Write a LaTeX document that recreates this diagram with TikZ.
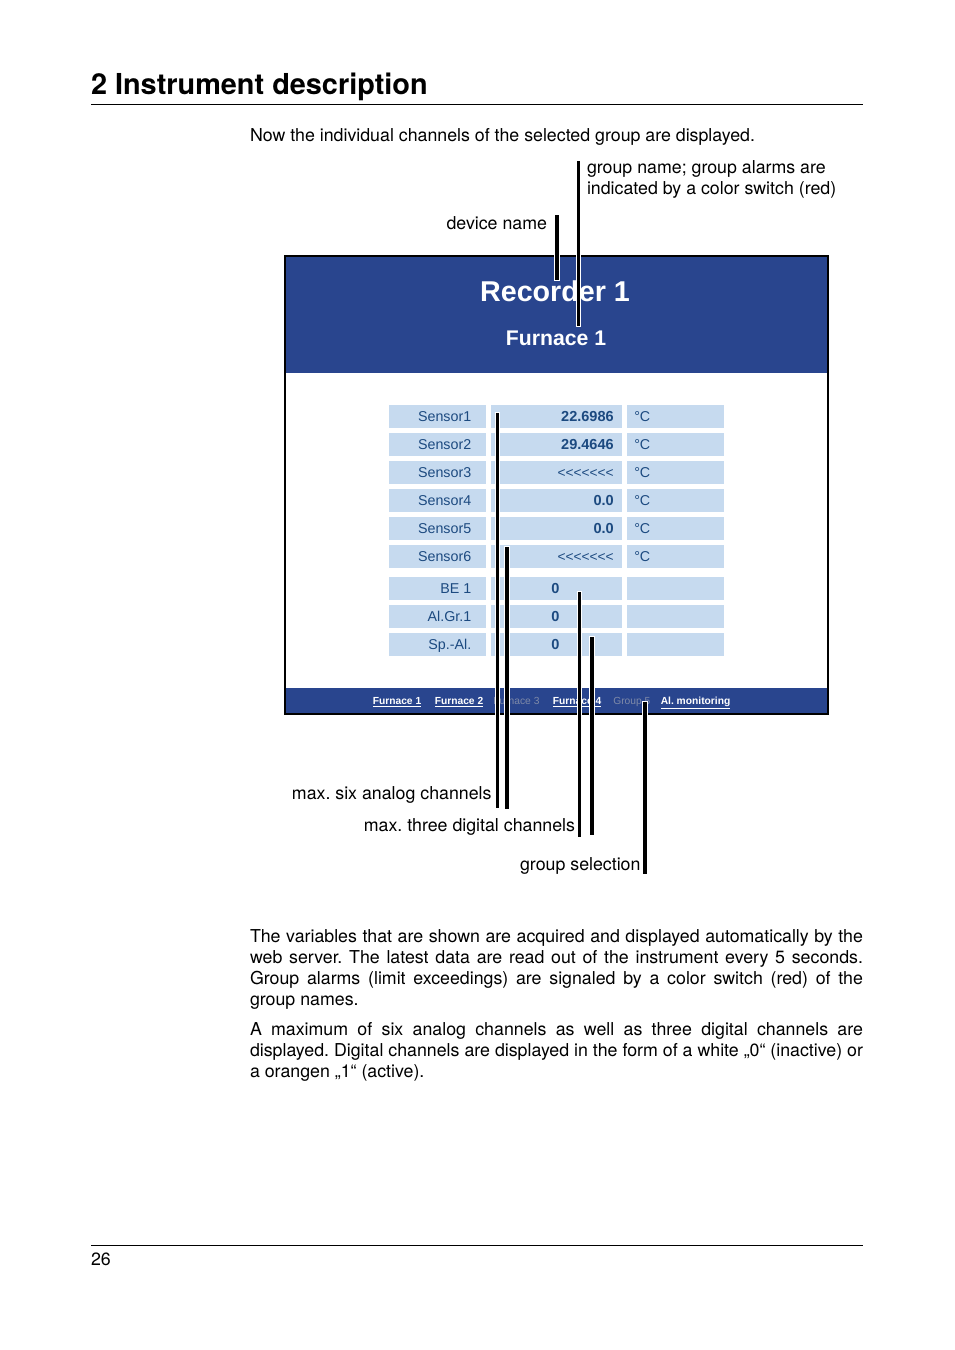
\documentclass[tikz,border=0pt]{standalone}
\usepackage{fontspec}
\setmainfont{TeX Gyre Heros}
\newfontfamily\uifont{Liberation Sans}
\definecolor{hdrblue}{HTML}{29458E}
\definecolor{cellblue}{HTML}{C6DAEF}
\definecolor{celltext}{HTML}{1C4A80}
\definecolor{greylink}{HTML}{7F8AA8}
\frenchspacing
\newcommand{\jline}[1]{\hbox to \hsize{\spaceskip=0.278em plus 1em minus 0.2em\relax #1}}
\tikzset{
  lbl/.style={inner sep=0pt,outer sep=0pt,anchor=base west,font=\fontsize{13.33}{15.75}\selectfont},
  lble/.style={lbl,anchor=base east},
  para/.style={lbl,text width=459.75pt},
  cell/.style={fill=cellblue,inner sep=0pt,outer sep=0pt,anchor=north west,minimum height=17.25pt},
  wa/.style={cell,minimum width=72.75pt},
  wb/.style={cell,minimum width=98.25pt},
  celltxt/.style={inner sep=0pt,text=celltext,font=\uifont\fontsize{10.7}{12}\selectfont},
  valtxt/.style={celltxt,font=\uifont\bfseries\fontsize{10.9}{12}\selectfont},
  chevtxt/.style={celltxt,font=\uifont\fontsize{10.3}{12}\selectfont},
  linkon/.style={inner sep=0pt,anchor=base west,text=white,font=\uifont\bfseries\fontsize{7.7}{9}\selectfont},
  linkoff/.style={linkon,text=greylink,font=\uifont\fontsize{7.7}{9}\selectfont},
  rulebar/.style={line width=0.75pt,black},
  bar/.style={black,preaction={draw=white,line width=#1+1.5pt,shorten <=-0.75pt,shorten >=-0.75pt},line width=#1},
  bar/.default=2.4pt
}
\begin{document}
\begin{tikzpicture}[x=0.75pt,y=-0.75pt]
\useasboundingbox (0,0) rectangle (954,1350);
\fill[white] (0,0) rectangle (954,1350);
% page head
\node[lbl,font=\bfseries\fontsize{21.65}{26}\selectfont] (title) at (91,94) {2 Instrument description};
\coordinate (rt1) at (91,104.5); \coordinate (rt2) at (863,104.5);
\draw[rulebar] (rt1) -- (rt2);
\node[lbl] (intro) at (250,141) {Now the individual channels of the selected group are displayed.};
\node[lbl] (gname1) at (587,173.5) {group name; group alarms are};
\node[lbl] (gname2) at (587,194) {indicated by a color switch (red)};
\node[lble] (dname) at (547,229) {device name};
% screen
\node[fill=hdrblue,inner sep=0pt,outer sep=0pt,anchor=north west,minimum width=408pt,minimum height=87.75pt] (hdr) at (285,256) {};
\node[fill=hdrblue,inner sep=0pt,outer sep=0pt,anchor=north west,minimum width=408pt,minimum height=18.75pt] (ftr) at (285,688) {};
\node[draw=black,line width=1.5pt,inner sep=0pt,outer sep=0pt,anchor=north west,minimum width=407.25pt,minimum height=343.25pt] (screen) at (285,256) {};
\node[text=white,inner sep=0pt,font=\uifont\bfseries\fontsize{21.5}{26}\selectfont] (rec) at (555,291.5) {Recorder 1};
\node[text=white,inner sep=0pt,font=\uifont\bfseries\fontsize{15.9}{19}\selectfont] (fur) at (556,338.5) {Furnace 1};
% analog rows
\foreach \i/\yy/\lab/\val/\vst in {1/405/Sensor1/22.6986/valtxt,2/433/Sensor2/29.4646/valtxt,3/461/Sensor3/{<{}<{}<{}<{}<{}<{}<}/chevtxt,4/489/Sensor4/0.0/valtxt,5/517/Sensor5/0.0/valtxt,6/545/Sensor6/{<{}<{}<{}<{}<{}<{}<}/chevtxt}{
  \node[wa] (a\i) at (389,\yy) {};
  \node[wb] (b\i) at (491,\yy) {};
  \node[wa] (c\i) at (627,\yy) {};
  \node[celltxt,anchor=base east] (la\i) at (471.5,\yy+16.5) {\lab};
  \node[\vst,anchor=base east] (va\i) at (614,\yy+16.5) {\val};
  \node[celltxt,anchor=base west] (ua\i) at (634,\yy+16.5) {°C};
}
% digital rows
\foreach \i/\yy/\lab in {1/577/BE 1,2/605/Al.Gr.1,3/633/Sp.-Al.}{
  \node[wa] (d\i) at (389,\yy) {};
  \node[wb] (e\i) at (491,\yy) {};
  \node[wa] (f\i) at (627,\yy) {};
  \node[celltxt,anchor=base east] (ld\i) at (471.5,\yy+16.5) {\lab};
  \node[valtxt,anchor=base] (vd\i) at (555.5,\yy+16.5) {0};
}
% footer links
\node[linkon] (l1) at (372.5,704.5) {\underline{Furnace 1}};
\node[linkon] (l2) at (434.5,704.5) {\underline{Furnace 2}};
\node[linkoff] (l3) at (493,704.5) {Furnace 3};
\node[linkon] (l4) at (552.5,704.5) {\underline{Furnace 4}};
\node[linkoff] (l5) at (613,704.5) {Group 5};
\node[linkon] (l6) at (660.5,704.5) {\underline{Al. monitoring}};
% leader bars
\coordinate (p1a) at (557,215); \coordinate (p1b) at (557,280);
\coordinate (p2a) at (578.5,161); \coordinate (p2b) at (578.5,326);
\coordinate (p3a) at (497.5,413); \coordinate (p3b) at (497.5,807.5);
\coordinate (p4a) at (507,547); \coordinate (p4b) at (507,808.5);
\coordinate (p5a) at (579.5,592); \coordinate (p5b) at (579.5,836.5);
\coordinate (p6a) at (592,637); \coordinate (p6b) at (592,834.5);
\coordinate (p7a) at (645,701.5); \coordinate (p7b) at (645,873.5);
\draw[bar=3pt] (p1a) -- (p1b);
\draw[bar=2.2pt] (p2a) -- (p2b);
\draw[bar=2.4pt] (p3a) -- (p3b);
\draw[bar=3pt] (p4a) -- (p4b);
\draw[bar=2.3pt] (p5a) -- (p5b);
\draw[bar=3pt] (p6a) -- (p6b);
\draw[bar=2.8pt] (p7a) -- (p7b);
% lower labels
\node[lble] (an) at (491.5,799) {max. six analog channels};
\node[lble] (di) at (575,831) {max. three digital channels};
\node[lble] (gs) at (640.5,870) {group selection};
% body text
\node[lbl] (par1a) at (250,942) {\hbox to 459.75pt{\spaceskip=0.278em plus 1em minus 0.2em\relax The variables that are shown are acquired and displayed automatically by the}};
\node[lbl] (par1b) at (250,963) {\hbox to 459.75pt{\spaceskip=0.278em plus 1em minus 0.2em\relax web server. The latest data are read out of the instrument every 5 seconds.}};
\node[lbl] (par1c) at (250,984) {\hbox to 459.75pt{\spaceskip=0.278em plus 1em minus 0.2em\relax Group alarms (limit exceedings) are signaled by a color switch (red) of the}};
\node[lbl] (par1d) at (250,1005) {group names.};
\node[lbl] (par2a) at (250,1035) {\hbox to 459.75pt{\spaceskip=0.278em plus 1em minus 0.2em\relax A maximum of six analog channels as well as three digital channels are}};
\node[lbl] (par2b) at (250,1056) {\hbox to 459.75pt{\spaceskip=0.278em plus 1em minus 0.2em\relax displayed. Digital channels are displayed in the form of a white „0“ (inactive) or}};
\node[lbl] (par2c) at (250,1077) {a orangen „1“ (active).};
% foot
\coordinate (rb1) at (91,1245.5); \coordinate (rb2) at (863,1245.5);
\draw[rulebar] (rb1) -- (rb2);
\node[lbl] (pg) at (91,1265) {26};
\end{tikzpicture}
\end{document}
